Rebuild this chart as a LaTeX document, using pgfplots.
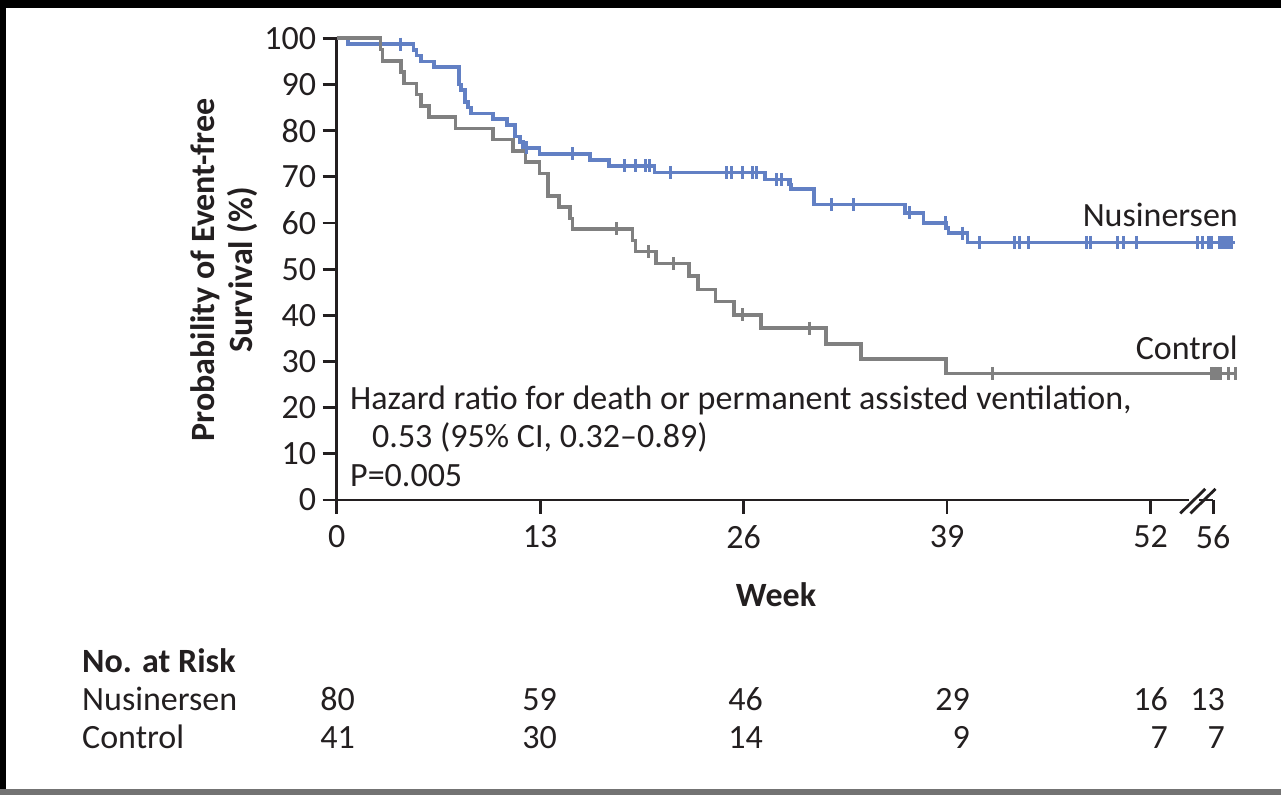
\documentclass[border=0pt]{standalone}
\usepackage{fontspec}
\setmainfont{Carlito}
\usepackage{pgfplots}
\pgfplotsset{compat=1.18}
\definecolor{nblue}{RGB}{98,128,196}
\definecolor{cgray}{RGB}{128,128,128}
\definecolor{txt}{RGB}{35,31,32}
\begin{document}
\begin{tikzpicture}[x=1pt,y=1pt]
\fontsize{34}{40}\selectfont
\path[use as bounding box] (0,0) rectangle (1281,795);
\fill[white] (0,0) rectangle (1281,795);
\fill[black] (0,787) rectangle (1281,795);
\fill[black] (0,0) rectangle (6,795);
\fill[black!55] (0,0) rectangle (1281,6);
\begin{axis}[
  at={(336.7pt,295pt)}, anchor=south west,
  scale only axis, width=876.4pt, height=461.7pt,
  xmin=0, xmax=56, ymin=0, ymax=100,
  axis lines=left, axis line style={-, line width=2.8pt, color=txt},
  clip=false,
  xtick={0,13,26,39,52,56}, ytick={0,10,...,100},
  tick align=outside, major tick length=14pt,
  tick style={line width=2.8pt, color=txt},
  tick label style={font=\fontsize{34}{40}\selectfont, text=txt},
  yticklabel style={xshift=5pt},
  /pgf/number format/assume math mode=true,
]
% Nusinersen
\addplot[const plot, color=nblue, line width=3.6pt] coordinates {
(0,100) (0.74,98.75) (4.9,97.5) (5.1,96.25) (5.4,95.0) (6.2,93.75) (7.8,90.0) (7.95,88.75) (8.2,86.25) (8.4,85.0) (8.6,83.75) (10.0,82.5) (10.9,81.25) (11.4,78.75) (11.7,77.5) (11.9,76.25) (12.95,75.0) (16.2,73.7) (17.4,72.4) (20.3,70.9) (27.35,69.4) (28.9,68.3) (29.05,67.3) (30.5,64.0) (36.3,62.2) (37.5,60.0) (38.95,58.9) (39.1,57.8) (40.3,55.8) (57.4,55.8)
};
\addplot[only marks, mark=|, mark size=6.5pt, color=nblue, mark options={line width=3pt}] coordinates {
(4.05,98.75) (12.1,76.25) (15.07,75.0) (18.4,72.4) (19.1,72.4) (19.7,72.4) (20.0,72.4) (21.3,70.9) (24.9,70.9) (25.2,70.9) (25.9,70.9) (26.6,70.9) (26.8,70.9) (28.1,69.4) (28.4,69.4) (28.98,68.3) (31.6,64.0) (33.0,64.0) (36.6,62.2) (38.9,60.0) (39.96,57.8) (41.1,55.8) (43.3,55.8) (43.6,55.8) (44.2,55.8) (47.9,55.8) (48.15,55.8) (49.9,55.8) (50.3,55.8) (51.1,55.8) (55.0,55.8) (55.3,55.8) (55.7,55.8) (55.9,55.8) (56.4,55.8) (56.6,55.8) (56.8,55.8) (57.0,55.8) (57.2,55.8)
};
% Control
\addplot[const plot, color=cgray, line width=3.6pt] coordinates {
(0,100) (2.8,97.56) (2.93,95.12) (4.1,92.68) (4.3,90.24) (5.1,87.80) (5.4,85.37) (5.9,82.93) (7.6,80.49) (10.0,78.05) (11.25,75.61) (12.06,73.17) (12.95,70.73) (13.5,65.85) (14.2,63.4) (14.9,61.0) (15.07,58.7) (18.9,56.2) (19.1,53.8) (20.4,51.2) (22.5,48.5) (23.1,45.6) (24.2,43.0) (25.4,40.1) (27.1,37.2) (31.25,33.8) (33.5,30.5) (38.95,27.4) (57.5,27.4)
};
\addplot[only marks, mark=|, mark size=6.5pt, color=cgray, mark options={line width=3pt}] coordinates {
(17.9,58.7) (19.9,53.8) (21.5,51.2) (25.9,40.1) (30.2,37.2) (41.9,27.4) (55.9,27.4) (56.1,27.4) (56.3,27.4) (56.5,27.4) (57.0,27.4) (57.4,27.4)
};
% axis break
\fill[white] (axis cs:54.45,-1.3) rectangle (axis cs:55.08,1.3);
\draw[line width=2.8pt, color=txt] (axis cs:53.9,-2.9) -- (axis cs:55.5,2.4);
\draw[line width=2.8pt, color=txt] (axis cs:54.55,-2.9) -- (axis cs:56.15,2.4);
\end{axis}
\begin{scope}[color=txt]
\node[anchor=base east, inner sep=0pt, text=txt] at (1238,568) {Nusinersen};
\node[anchor=base east, inner sep=0pt, text=txt] at (1238,435) {Control};
\node[anchor=base west, inner sep=0pt, text=txt] at (350,385) {Hazard ratio for death or permanent assisted ventilation,};
\node[anchor=base west, inner sep=0pt, text=txt] at (372,347) {0.53 (95\% CI, 0.32–0.89)};
\node[anchor=base west, inner sep=0pt, text=txt] at (350,308) {P=0.005};
\node[anchor=base, inner sep=0pt, text=txt, font=\bfseries] at (776,188) {Week};
\node[anchor=base, inner sep=0pt, text=txt, font=\bfseries, rotate=90] at (214,525) {Probability of Event-free};
\node[anchor=base, inner sep=0pt, text=txt, font=\bfseries, rotate=90] at (252,525) {Survival (\%)};
\node[anchor=base west, inner sep=0pt, text=txt, font=\bfseries] at (82,123) {No. at Risk};
\node[anchor=base west, inner sep=0pt, text=txt] at (82,85) {Nusinersen};
\node[anchor=base west, inner sep=0pt, text=txt] at (82,47) {Control};
\foreach \xx/\a/\b in {355/80/41, 557/59/30, 763/46/14, 970/29/9, 1168/16/7, 1225/13/7} {
  \node[anchor=base east, inner sep=0pt, text=txt] at (\xx,85) {\a};
  \node[anchor=base east, inner sep=0pt, text=txt] at (\xx,47) {\b};
}
\end{scope}
\end{tikzpicture}
\end{document}
